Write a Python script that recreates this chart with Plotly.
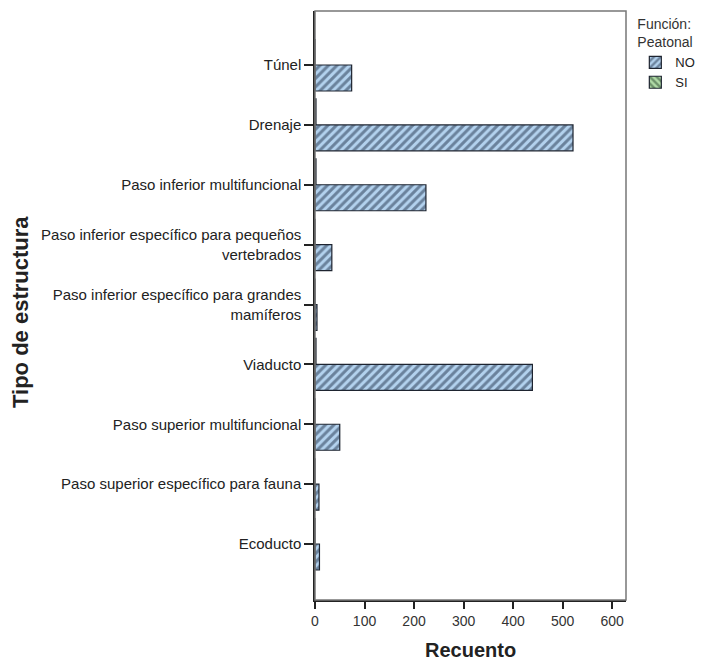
import plotly.graph_objects as go

# Structure types, listed bottom-to-top as drawn on the category axis
categorias = [
    "Ecoducto",
    "Paso superior específico para fauna",
    "Paso superior multifuncional",
    "Viaducto",
    "Paso inferior específico para grandes<br>mamíferos",
    "Paso inferior específico para pequeños<br>vertebrados",
    "Paso inferior multifuncional",
    "Drenaje",
    "Túnel",
]

# Counts per pedestrian-function group
recuento_no = [9, 8, 50, 439, 4, 34, 224, 521, 74]
recuento_si = [0, 0, 0, 2, 0, 0, 2, 2, 0]

ticks_x = [0, 100, 200, 300, 400, 500, 600]

FONT = "Liberation Sans, Arial, sans-serif"

fig = go.Figure()

fig.add_trace(go.Bar(
    y=categorias, x=recuento_no, orientation="h", name="NO",
    marker=dict(
        color="#b3d2ee",
        line=dict(color="#1e2430", width=1.2),
        pattern=dict(shape="/", fgcolor="#22314a", bgcolor="#b3d2ee",
                     size=6, solidity=0.5, fillmode="overlay"),
    ),
))
fig.add_trace(go.Bar(
    y=categorias, x=recuento_si, orientation="h", name="SI",
    marker=dict(
        color="#b2dca8",
        line=dict(color="#1e2430", width=1.2),
        pattern=dict(shape="\\", fgcolor="#24442a", bgcolor="#b2dca8",
                     size=6, solidity=0.5, fillmode="overlay"),
    ),
))

fig.update_layout(
    width=708, height=662,
    margin=dict(l=315, r=82, t=11, b=62, autoexpand=False),
    paper_bgcolor="white", plot_bgcolor="white",
    barmode="group", bargap=0.132, bargroupgap=0,
    font=dict(family=FONT, size=14, color="#222"),
    showlegend=True,
    legend=dict(
        x=1.03, y=1.0, xanchor="left", yanchor="top",
        title=dict(text="Función:<br>Peatonal", font=dict(size=14, color="#333")),
        font=dict(size=13, color="#222"),
        traceorder="normal", itemwidth=30, tracegroupgap=0,
        bgcolor="rgba(0,0,0,0)",
    ),
    xaxis=dict(
        range=[0, 628], tickvals=ticks_x, ticktext=[str(t) for t in ticks_x],
        showgrid=False, zeroline=False, automargin=False,
        showline=True, linecolor="#222", linewidth=1.5,
        ticks="outside", ticklen=7, tickwidth=1.5, tickcolor="#222",
        tickfont=dict(size=14, color="#333"),
    ),
    yaxis=dict(
        type="category", categoryorder="array", categoryarray=categorias,
        range=[-0.935, 8.902], automargin=False,
        showgrid=False, zeroline=False,
        showline=True, linecolor="#222", linewidth=1.5,
        ticks="outside", ticklen=9, tickwidth=1.5, tickcolor="#222",
        tickfont=dict(size=15, color="#222"),
        ticklabelstandoff=0,
    ),
)

# X-axis title below the tick labels
fig.add_annotation(
    text="<b>Recuento</b>", xref="paper", yref="paper",
    x=0.5, y=0, xanchor="center", yanchor="middle", yshift=-50,
    showarrow=False, font=dict(size=20, color="#222"),
)

# Y-axis title placed at the far left of the figure
fig.add_annotation(
    text="<b>Tipo de estructura</b>", xref="paper", yref="paper",
    x=0, y=0.489, xanchor="center", yanchor="middle", xshift=-294,
    textangle=-90, showarrow=False, font=dict(size=22, color="#222"),
)

# Gray frame around the plotting area
fig.add_shape(type="rect", xref="paper", yref="paper", x0=0, y0=0, x1=1, y1=1,
              line=dict(color="#777", width=1.5), layer="above")

fig.write_html("out.html")
